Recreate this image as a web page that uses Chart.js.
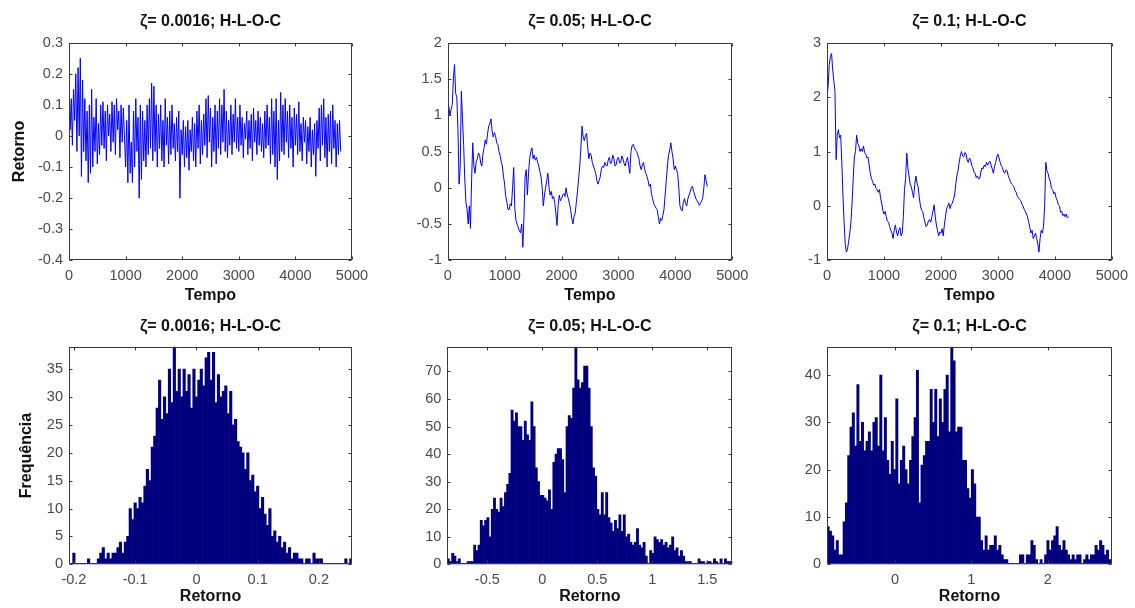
<!DOCTYPE html>
<html>
<head>
<meta charset="utf-8">
<script src="https://cdn.jsdelivr.net/npm/chart.js@4"></script>
<style>
  body { margin: 0; background: #fff; width: 1135px; height: 608px; position: relative; overflow: hidden; }
  .cell { position: absolute; }
</style>
</head>
<body>
<div class="cell" style="left:0px;top:0px;width:378px;height:305px"><canvas id="c1"></canvas></div>
<div class="cell" style="left:378px;top:0px;width:378px;height:305px"><canvas id="c2"></canvas></div>
<div class="cell" style="left:756px;top:0px;width:379px;height:305px"><canvas id="c3"></canvas></div>
<div class="cell" style="left:0px;top:305px;width:378px;height:303px"><canvas id="c4"></canvas></div>
<div class="cell" style="left:378px;top:305px;width:378px;height:303px"><canvas id="c5"></canvas></div>
<div class="cell" style="left:756px;top:305px;width:379px;height:303px"><canvas id="c6"></canvas></div>
<script>
// Titles
const titulos = ['ζ= 0.0016; H-L-O-C', 'ζ= 0.05; H-L-O-C', 'ζ= 0.1; H-L-O-C']

// Series (retorno), one value every tempoStep units of time
const tempoStep1 = 20
const retorno1 = [
  0.19, 0.02, 0.12, -0.03, 0.15, 0.05, 0.2, -0.05, 0.22, 0.0,
  0.25, -0.13, 0.18, -0.05, 0.12, -0.08, 0.08, -0.15, 0.1, -0.12,
  0.15, -0.1, 0.06, -0.05, 0.12, -0.09, 0.04, -0.06, 0.1, -0.03,
  0.11, -0.04, 0.08, -0.08, 0.1, 0.0, 0.07, -0.05, 0.11, -0.02,
  0.1, -0.06, 0.12, 0.02, 0.08, -0.07, 0.1, -0.02, 0.09, 0.0,
  -0.1, 0.05, -0.15, 0.1, -0.12, -0.02, -0.15, 0.08, -0.1, 0.12,
  -0.05, 0.06, -0.2, 0.1, -0.14, 0.08, -0.08, 0.05, -0.1, 0.1,
  -0.06, 0.12, -0.04, 0.17, -0.08, 0.16, -0.05, 0.1, -0.1, 0.07,
  -0.04, 0.1, -0.08, 0.05, -0.1, 0.12, -0.03, 0.06, -0.09, 0.08,
  -0.06, 0.1, -0.04, 0.04, -0.08, 0.06, -0.05, 0.08, -0.2, 0.02,
  -0.06, 0.05, -0.1, 0.03, -0.07, 0.05, -0.11, 0.02, -0.05, 0.06,
  -0.08, 0.04, -0.1, 0.08, -0.04, 0.1, -0.09, 0.05, -0.06, 0.07,
  -0.03, 0.12, -0.07, 0.13, -0.02, 0.09, -0.1, 0.06, -0.05, 0.1,
  -0.09, 0.08, -0.04, 0.12, -0.06, 0.1, -0.02, 0.15, -0.05, 0.08,
  -0.07, 0.05, -0.03, 0.1, -0.06, 0.07, -0.02, 0.12, -0.04, 0.06,
  -0.05, 0.1, -0.03, 0.06, -0.07, 0.04, -0.01, 0.08, -0.06, 0.05,
  -0.04, 0.07, -0.08, 0.09, -0.02, 0.05, -0.06, 0.08, -0.03, 0.06,
  -0.05, 0.04, -0.07, 0.08, -0.04, 0.1, -0.03, 0.06, -0.09, 0.12,
  -0.06, 0.08, -0.1, 0.12, -0.14, 0.05, -0.08, 0.14, -0.05, 0.1,
  -0.06, 0.12, -0.02, 0.08, -0.07, 0.1, -0.04, 0.06, -0.1, 0.09,
  -0.03, 0.07, -0.06, 0.11, -0.05, 0.04, -0.08, 0.06, -0.02, 0.05,
  -0.09, 0.03, -0.05, 0.06, -0.1, 0.02, -0.06, 0.04, -0.13, 0.05,
  -0.04, 0.09, -0.08, 0.1, -0.03, 0.12, -0.07, 0.06, -0.1, 0.07,
  -0.05, 0.08, -0.09, 0.1, -0.04, 0.05, -0.1, 0.04, -0.06, 0.05,
  -0.05
]

const tempoStep2 = 20
const retorno2 = [
  1.1, 1.12, 1.0, 1.08, 1.15, 1.5, 1.7, 1.3, 1.25, 0.8, 0.05, 0.3, 1.33, 0.95, 0.6, 0.12, -0.2, -0.3, -0.5, -0.25,
  -0.56, 0.1, 0.62, 0.3, 0.2, 0.36, 0.4, 0.48, 0.45, 0.34, 0.3, 0.47, 0.55, 0.66, 0.6, 0.74, 0.85, 0.88, 0.95, 0.78,
  0.7, 0.76, 0.72, 0.62, 0.6, 0.5, 0.45, 0.36, 0.3, 0.16, 0.05, -0.12, -0.2, -0.3, -0.3, -0.22, -0.25, 0.0, 0.28, -0.3,
  -0.45, -0.5, -0.55, -0.6, -0.62, -0.5, -0.82, -0.4, 0.15, 0.25, -0.1, 0.2, 0.4, 0.5, 0.55, 0.4, 0.45, 0.38, 0.42, 0.35,
  0.3, 0.22, 0.15, 0.0, -0.25, -0.1, 0.0, 0.1, 0.2, 0.0, -0.1, -0.05, -0.15, -0.12, -0.2, -0.35, -0.52, -0.25, -0.1, -0.18,
  -0.15, -0.1, -0.08, -0.12, 0.0, -0.1, -0.15, -0.22, -0.3, -0.42, -0.5, -0.4, -0.35, -0.2, -0.05, 0.12, 0.3, 0.55, 0.85, 0.7,
  0.65, 0.72, 0.75, 0.55, 0.4, 0.48, 0.45, 0.35, 0.3, 0.25, 0.2, 0.1, 0.05, 0.1, 0.15, 0.26, 0.3, 0.28, 0.35, 0.31,
  0.3, 0.38, 0.42, 0.33, 0.35, 0.45, 0.4, 0.3, 0.32, 0.4, 0.42, 0.34, 0.35, 0.44, 0.4, 0.33, 0.3, 0.38, 0.42, 0.3,
  0.2, 0.5, 0.58, 0.6, 0.55, 0.52, 0.5, 0.45, 0.4, 0.3, 0.25, 0.32, 0.35, 0.25, 0.2, 0.16, 0.1, 0.02, 0.05, -0.08,
  -0.15, -0.22, -0.25, -0.28, -0.3, -0.4, -0.5, -0.42, -0.45, -0.38, -0.3, -0.1, 0.1, 0.3, 0.45, 0.52, 0.62, 0.5, 0.4, 0.25,
  0.3, 0.24, 0.2, 0.0, -0.25, -0.3, -0.32, -0.2, -0.15, -0.22, -0.25, -0.15, -0.1, -0.06, 0.0, 0.02, -0.05, -0.1, -0.15, -0.18,
  -0.2, -0.24, -0.22, -0.18, -0.15, 0.0, 0.18, 0.1, 0.02
]

const tempoStep3 = 20
const retorno3 = [
  2.0, 2.2, 2.6, 2.75, 2.8, 2.5, 2.3, 2.1, 0.85, 1.3, 1.4, 1.25, 1.3, 0.8, 0.2, -0.3, -0.7, -0.85, -0.8, -0.65,
  -0.5, -0.3, 0.05, 0.5, 0.9, 1.0, 1.3, 1.15, 1.1, 1.0, 1.05, 1.0, 1.1, 0.98, 0.95, 0.88, 0.9, 0.75, 0.6, 0.5,
  0.45, 0.38, 0.4, 0.32, 0.3, 0.25, 0.3, 0.15, 0.05, -0.08, -0.15, -0.1, -0.2, -0.28, -0.3, -0.38, -0.45, -0.5, -0.6, -0.45,
  -0.35, -0.48, -0.55, -0.45, -0.4, -0.55, -0.5, -0.2, 0.3, 0.5, 0.97, 0.7, 0.55, 0.4, 0.35, 0.25, 0.15, 0.4, 0.55, 0.42,
  0.35, 0.15, 0.0, -0.08, -0.1, -0.22, -0.3, -0.38, -0.35, -0.28, -0.25, -0.3, -0.2, -0.1, 0.02, -0.2, -0.35, -0.45, -0.55, -0.48,
  -0.5, -0.42, -0.55, -0.35, -0.2, -0.05, 0.0, 0.05, -0.05, 0.02, 0.05, 0.12, 0.2, 0.4, 0.55, 0.65, 0.8, 0.92, 1.0, 0.92,
  0.9, 0.98, 0.95, 0.85, 0.8, 0.88, 0.85, 0.75, 0.7, 0.62, 0.6, 0.52, 0.55, 0.5, 0.5, 0.62, 0.7, 0.68, 0.75, 0.72,
  0.8, 0.75, 0.8, 0.82, 0.75, 0.68, 0.6, 0.72, 0.8, 0.9, 0.95, 0.88, 0.8, 0.74, 0.7, 0.62, 0.6, 0.66, 0.65, 0.56,
  0.5, 0.45, 0.4, 0.38, 0.35, 0.28, 0.25, 0.18, 0.15, 0.12, 0.1, 0.03, 0.0, -0.06, -0.1, -0.15, -0.2, -0.3, -0.4, -0.5,
  -0.45, -0.6, -0.55, -0.5, -0.6, -0.7, -0.85, -0.6, -0.45, -0.5, -0.38, 0.0, 0.8, 0.65, 0.6, 0.5, 0.45, 0.32, 0.3, 0.22,
  0.25, 0.15, 0.1, 0.02, 0.0, -0.12, -0.1, -0.18, -0.15, -0.2, -0.15, -0.22, -0.2
]

// Histograms: first bin centre, bin width, counts per bin
const hist1Start = -0.204, hist1Width = 0.004
const hist1Counts = [
  0, 2, 0, 0, 0, 0, 0, 1, 0, 0,
  0, 1, 2, 3, 1, 2, 1, 2, 2, 3,
  4, 2, 4, 5, 10, 8, 11, 10, 12, 11,
  14, 17, 15, 21, 23, 28, 33, 26, 30, 27,
  35, 29, 39, 31, 35, 30, 35, 31, 34, 28,
  35, 30, 33, 35, 32, 37, 38, 33, 38, 29,
  34, 30, 31, 32, 27, 31, 25, 26, 22, 21,
  20, 17, 20, 15, 16, 13, 14, 10, 12, 9,
  7, 10, 5, 6, 4, 5, 3, 4, 2, 3,
  1, 2, 2, 1, 1, 0, 1, 1, 0, 2,
  1, 1, 1, 0, 0, 0, 0, 0, 0, 0,
  0, 0, 1, 0, 1
]

const hist2Start = -0.855, hist2Width = 0.02
const hist2Counts = [
  2, 1, 4, 3, 1, 2, 0, 0, 0, 1,
  1, 1, 7, 5, 7, 16, 14, 16, 17, 10,
  20, 24, 20, 19, 24, 21, 26, 29, 33, 56,
  52, 55, 50, 50, 45, 52, 47, 45, 59, 50,
  35, 30, 25, 25, 24, 23, 27, 20, 37, 40,
  42, 42, 38, 26, 50, 54, 53, 64, 79, 67,
  64, 66, 72, 72, 64, 50, 35, 32, 20, 18,
  26, 18, 26, 17, 15, 12, 16, 13, 18, 12,
  18, 10, 11, 8, 7, 8, 13, 7, 6, 8,
  3, 0, 5, 4, 10, 9, 8, 9, 7, 8,
  6, 7, 10, 5, 6, 3, 5, 3, 1, 1,
  1, 0, 0, 0, 2, 1, 1, 0, 1, 1,
  0, 2, 1, 0, 2, 0, 2, 1, 1, 1
]

const hist3Start = -0.876, hist3Width = 0.03
const hist3Counts = [
  8, 7, 6, 3, 5, 2, 2, 9, 13, 23,
  29, 32, 25, 38, 26, 30, 24, 26, 28, 24,
  30, 31, 25, 40, 24, 31, 22, 19, 26, 20,
  35, 17, 22, 25, 20, 17, 22, 27, 31, 41,
  13, 21, 23, 26, 26, 37, 30, 37, 27, 35,
  30, 37, 40, 28, 46, 43, 28, 29, 29, 22,
  22, 16, 14, 20, 17, 10, 10, 5, 3, 6,
  3, 4, 4, 6, 3, 4, 2, 1, 1, 0,
  0, 0, 0, 0, 2, 2, 0, 2, 2, 5,
  4, 1, 0, 1, 0, 2, 5, 3, 5, 6,
  8, 4, 3, 5, 3, 2, 1, 2, 1, 2,
  2, 0, 1, 2, 1, 2, 2, 4, 3, 5,
  4, 2, 3, 1, 1
]

// Tick labels
const tempoTicks = [0, 1000, 2000, 3000, 4000, 5000]
const retornoTicks1 = [-0.4, -0.3, -0.2, -0.1, 0, 0.1, 0.2, 0.3]
const retornoTicks2 = [-1, -0.5, 0, 0.5, 1, 1.5, 2]
const retornoTicks3 = [-1, 0, 1, 2, 3]
const histTicks1 = [-0.2, -0.1, 0, 0.1, 0.2]
const histTicks2 = [-0.5, 0, 0.5, 1, 1.5]
const histTicks3 = [0, 1, 2]
const freqTicks1 = [0, 5, 10, 15, 20, 25, 30, 35]
const freqTicks2 = [0, 10, 20, 30, 40, 50, 60, 70]
const freqTicks3 = [0, 10, 20, 30, 40]

const fonte = "'Liberation Sans', Arial, sans-serif"

// Matlab style box with small inward ticks on all four sides
const caixa = {
    id: 'caixa',
    afterDraw(chart) {
        const ctx = chart.ctx
        const a = chart.chartArea
        const xs = chart.scales.x
        const ys = chart.scales.y
        const L = Math.round(a.left) + 0.5
        const R = Math.round(a.right) - 0.5
        const T = Math.round(a.top) + 0.5
        const B = Math.round(a.bottom) - 0.5
        ctx.save()
        ctx.strokeStyle = '#3a3a3a'
        ctx.lineWidth = 1
        ctx.strokeRect(L, T, R - L, B - T)
        ctx.beginPath()
        xs.ticks.forEach(t => {
            const px = Math.round(xs.getPixelForValue(t.value)) + 0.5
            ctx.moveTo(px, B); ctx.lineTo(px, B - 3)
            ctx.moveTo(px, T); ctx.lineTo(px, T + 3)
        })
        ys.ticks.forEach(t => {
            const py = Math.round(ys.getPixelForValue(t.value)) + 0.5
            ctx.moveTo(L, py); ctx.lineTo(L + 3, py)
            ctx.moveTo(R, py); ctx.lineTo(R - 3, py)
        })
        ctx.stroke()
        ctx.restore()
    }
}

// Build a series dataset
function serie(valores, passo) {
    return {
        data: valores.map((v, i) => ({x: i * passo, y: v})),
        borderColor: '#0000ff',
        borderWidth: 1,
        pointRadius: 0,
        tension: 0
    }
}

// Build a histogram dataset
function histograma(contagens, inicio, largura) {
    return {
        data: contagens.map((c, i) => ({x: inicio + i * largura, y: c})),
        backgroundColor: '#00007f',
        borderWidth: 0,
        barPercentage: 1,
        categoryPercentage: 1
    }
}

// pad = [title block height, right padding, x axis height, y axis width]
function grafico(id, o) {
    const titleTop = 12.4
    return new Chart(document.getElementById(id), {
        type: o.type,
        data: { datasets: [o.dataset] },
        options: {
            responsive: true,
            maintainAspectRatio: false,
            animation: false,
            events: [],
            layout: { padding: { left: 0, right: o.pad[1], top: 0, bottom: 0 } },
            plugins: {
                legend: { display: false },
                tooltip: { enabled: false },
                title: {
                    display: true,
                    text: o.title,
                    fullSize: false,
                    color: '#111',
                    font: { family: fonte, size: 16, weight: 'bold' },
                    padding: { top: titleTop, bottom: o.pad[0] - titleTop - 19.2 }
                }
            },
            scales: {
                x: {
                    type: 'linear',
                    min: o.xRange[0],
                    max: o.xRange[1],
                    offset: false,
                    grid: { display: false, drawTicks: false },
                    border: { display: false },
                    afterBuildTicks: s => { s.ticks = o.xTicks.map(v => ({value: v})) },
                    afterFit: s => { s.height = o.pad[2] },
                    ticks: {
                        color: '#4a4a4a',
                        padding: 7,
                        maxRotation: 0,
                        font: { family: fonte, size: 14.5 },
                        callback: v => String(v)
                    },
                    title: {
                        display: true,
                        text: o.xTitle,
                        color: '#111',
                        font: { family: fonte, size: 16, weight: 'bold' },
                        padding: { top: 0, bottom: o.xTitlePad }
                    }
                },
                y: {
                    type: 'linear',
                    min: o.yRange[0],
                    max: o.yRange[1],
                    grid: { display: false, drawTicks: false },
                    border: { display: false },
                    afterBuildTicks: s => { s.ticks = o.yTicks.map(v => ({value: v})) },
                    afterFit: s => { s.width = o.pad[3] },
                    ticks: {
                        color: '#4a4a4a',
                        padding: 6,
                        font: { family: fonte, size: 14.5 },
                        callback: v => String(v)
                    },
                    title: {
                        display: !!o.yTitle,
                        text: o.yTitle || '',
                        color: '#111',
                        font: { family: fonte, size: 16, weight: 'bold' },
                        padding: { top: o.yTitlePad || 0, bottom: 0 }
                    }
                }
            }
        },
        plugins: [caixa]
    })
}

// Main
document.addEventListener("DOMContentLoaded", function(){

    // Top row: series
    grafico('c1', {
        type: 'line', dataset: serie(retorno1, tempoStep1), title: titulos[0],
        xRange: [0, 5000], yRange: [-0.4, 0.3], xTicks: tempoTicks, yTicks: retornoTicks1,
        xTitle: 'Tempo', xTitlePad: 0, yTitle: 'Retorno', yTitlePad: 9.5,
        pad: [42.7, 26, 44.7, 69]
    })
    grafico('c2', {
        type: 'line', dataset: serie(retorno2, tempoStep2), title: titulos[1],
        xRange: [0, 5000], yRange: [-1, 2], xTicks: tempoTicks, yTicks: retornoTicks2,
        xTitle: 'Tempo', xTitlePad: 0,
        pad: [42.7, 23.7, 44.7, 69.7]
    })
    grafico('c3', {
        type: 'line', dataset: serie(retorno3, tempoStep3), title: titulos[2],
        xRange: [0, 5000], yRange: [-1, 3], xTicks: tempoTicks, yTicks: retornoTicks3,
        xTitle: 'Tempo', xTitlePad: 0,
        pad: [42.7, 23, 44.7, 71]
    })

    // Bottom row: histograms
    grafico('c4', {
        type: 'bar', dataset: histograma(hist1Counts, hist1Start, hist1Width), title: titulos[0],
        xRange: [-0.208, 0.254], yRange: [0, 39], xTicks: histTicks1, yTicks: freqTicks1,
        xTitle: 'Retorno', xTitlePad: 1.4, yTitle: 'Frequência', yTitlePad: 17,
        pad: [41.7, 26, 43.7, 69]
    })
    grafico('c5', {
        type: 'bar', dataset: histograma(hist2Counts, hist2Start, hist2Width), title: titulos[1],
        xRange: [-0.864, 1.727], yRange: [0, 79], xTicks: histTicks2, yTicks: freqTicks2,
        xTitle: 'Retorno', xTitlePad: 1.4,
        pad: [41.7, 23.7, 43.7, 69.3]
    })
    grafico('c6', {
        type: 'bar', dataset: histograma(hist3Counts, hist3Start, hist3Width), title: titulos[2],
        xRange: [-0.891, 2.843], yRange: [0, 46], xTicks: histTicks3, yTicks: freqTicks3,
        xTitle: 'Retorno', xTitlePad: 1.4,
        pad: [41.7, 23, 43.7, 71]
    })
})
</script>
</body>
</html>
